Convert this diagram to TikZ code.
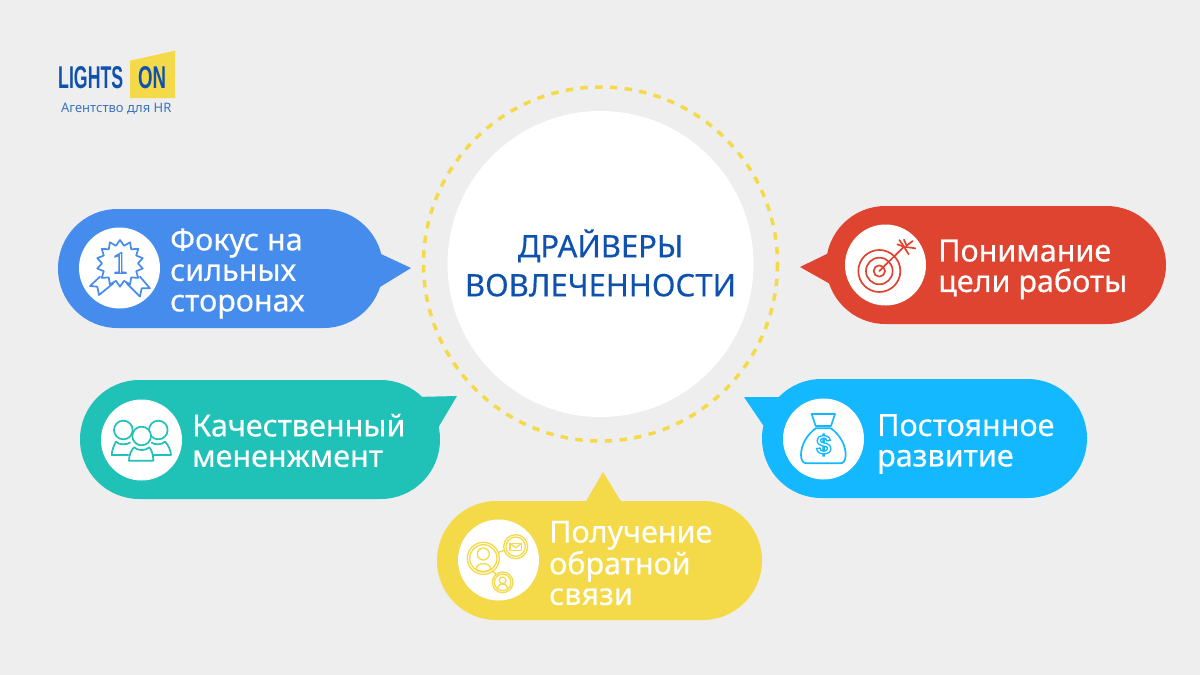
\documentclass[tikz,border=0pt]{standalone}
\usepackage{fontspec}
\usepackage{graphicx}
\setmainfont{Noto Sans}
\newfontfamily\medf[FakeBold=0.35]{Noto Sans}
\newfontfamily\serifnum{Liberation Serif}
\newfontfamily\logof{Liberation Sans}
\definecolor{bgc}{HTML}{EEEEEE}
\definecolor{cblue}{HTML}{468CEC}
\definecolor{cteal}{HTML}{20C1B7}
\definecolor{cyel}{HTML}{F4DA49}
\definecolor{ccyan}{HTML}{13B8FF}
\definecolor{cred}{HTML}{DF4430}
\definecolor{navy}{HTML}{0E51AE}
\definecolor{subblue}{HTML}{3A74BC}
\newcommand{\outl}[1]{\special{pdf:code q 1 Tr 1.3 w}#1\special{pdf:code Q}}
\tikzset{
  bubble/.style={rectangle,rounded corners=59.4pt,inner sep=0pt,minimum height=119pt},
  disc/.style={circle,fill=white,inner sep=0pt,minimum size=81pt},
  lbl/.style={anchor=west,align=left,text=white,inner sep=0pt,font=\fontsize{30.5}{30.5}\medf},
  ico/.style={line width=1.7pt,line join=round,line cap=round},
}
\begin{document}
\begin{tikzpicture}[x=1pt,y=-1pt]
\useasboundingbox (0,0) rectangle (1200,675);
\fill[bgc] (0,0) rectangle (1200,675);
% centre
\draw[cyel,line width=3.5pt,dash pattern=on 7.4pt off 7.4pt] (600.5,264) circle (177);
\node[circle,fill=white,inner sep=0pt,minimum size=306pt] (centre) at (600.5,264) {};
\node[align=center,inner sep=0pt,text=navy,font=\fontsize{31}{39}\medf] (title) at (600.5,263) {ДРАЙВЕРЫ\\ВОВЛЕЧЕННОСТИ};
% bubbles
\node[bubble,fill=cblue,minimum width=325pt] (b1) at (220.5,268.5) {};
\fill[cblue] (381,254) -- (411,268) -- (380,287) -- cycle;
\node[bubble,fill=cteal,minimum width=360pt] (b2) at (260,439.5) {};
\fill[cteal] (415,397) -- (457,396) -- (438,428) -- (425,430) -- cycle;
\node[bubble,fill=cyel,minimum width=325pt] (b3) at (599.5,560.5) {};
\fill[cyel] (585,503) -- (603,472) -- (622,503) -- cycle;
\node[bubble,fill=ccyan,minimum width=325pt] (b4) at (924.5,438.5) {};
\fill[ccyan] (790,397) -- (744,397) -- (763,425) -- (775,430) -- cycle;
\node[bubble,fill=cred,minimum width=340pt,minimum height=118pt] (b5) at (996,265) {};
\fill[cred] (835,250) -- (800,267) -- (832,285) -- cycle;
% discs
\node[disc] (d1) at (119.5,268) {};
\node[disc] (d2) at (141.5,440) {};
\node[disc] (d3) at (498.5,560) {};
\node[disc] (d4) at (823.5,439) {};
\node[disc] (d5) at (885.5,265) {};
% labels
\node[lbl] (t1) at (170,273.5) {Фокус на\\сильных\\сторонах};
\node[lbl] (t2) at (192,440.5) {Качественный\\мененжмент};
\node[lbl] (t3) at (549,563) {Получение\\обратной\\связи};
\node[lbl] (t4) at (877,444) {Постоянное\\развитие};
\node[lbl] (t5) at (938,269.5) {Понимание\\цели работы};
% badge icon
\begin{scope}[ico,draw=cblue,xshift=70pt,yshift=-220pt,x=0.3333pt,y=-0.3333pt]
 \draw (90,170) -- (60,198) -- (82,200) -- (87,225) -- (130,190);
 \draw (210,170) -- (240,205) -- (215,205) -- (210,230) -- (170,190);
 \draw[fill=white] (150,60)
  \foreach \i in {1,...,27}{ -- ({150+(mod(\i,2)==0 ? 70 : 54)*sin(\i*360/28)},{130-(mod(\i,2)==0 ? 70 : 54)*cos(\i*360/28)}) } -- cycle;
\end{scope}
\node[inner sep=0pt,text=cblue,font=\fontsize{31}{31}\serifnum] (one) at (120,263) {\outl{1}};
% people icon
\begin{scope}[ico,draw=cteal,xshift=90pt,yshift=-390pt,x=0.3333pt,y=-0.3333pt]
 \draw (100,120) circle (28*1);
 \draw (205,120) circle (28*1);
 \draw (78,155) .. controls (85,165) and (110,165) .. (120,158);
 \draw (78,155) .. controls (72,165) and (66,180) .. (65,195) -- (115,195);
 \draw (225,155) .. controls (215,165) and (195,165) .. (185,158);
 \draw (225,155) .. controls (235,165) and (242,180) .. (243,195) -- (190,195);
 \draw[fill=white] (155,138) circle (28*1);
 \draw[fill=white] (132,172) .. controls (145,183) and (165,183) .. (178,172) .. controls (185,180) and (190,195) .. (190,212) -- (117,212) .. controls (117,195) and (124,180) .. (132,172) -- cycle;
\end{scope}
% feedback icon
\begin{scope}[ico,draw=cyel,line width=1.3pt,xshift=450pt,yshift=-510pt,x=0.3333pt,y=-0.3333pt]
 \draw (100,145) circle (48*1);
 \draw (100,145) circle (41*1);
 \draw (100,132) circle (18*1);
 \draw (78,178) .. controls (78,155) and (122,155) .. (122,178) .. controls (110,186) and (90,186) .. (78,178) -- cycle;
 \draw (197,110) circle (36*1);
 \draw (197,110) circle (29*1);
 \draw (180,100) rectangle (215,122);
 \draw (180,100) -- (197,113) -- (215,100);
 \draw (158,217) circle (31*1);
 \draw (158,217) circle (25*1);
 \draw (158,211) circle (10*1);
 \draw (144,233) .. controls (144,218) and (172,218) .. (172,233);
 \draw (145,127) -- (163,121);
 \draw (128,183) -- (140,195);
\end{scope}
% money bag icon
\begin{scope}[ico,draw=ccyan,xshift=775pt,yshift=-400pt,x=0.3333pt,y=-0.3333pt]
 \draw (110,42) -- (180,42) -- (168,78) -- (122,78) -- cycle;
 \draw (122,85) -- (168,85) .. controls (195,105) and (212,135) .. (212,165) .. controls (212,182) and (205,190) .. (195,190) -- (95,190) .. controls (85,190) and (78,182) .. (78,165) .. controls (78,135) and (95,105) .. (122,85) -- cycle;
\end{scope}
\node[inner sep=0pt,text=ccyan,font=\fontsize{27}{27}\logof\bfseries] (dollar) at (823.7,445) {\outl{\$}};
% target icon
\begin{scope}[ico,draw=cred,xshift=840pt,yshift=-225pt,x=0.3333pt,y=-0.3333pt]
 \draw (118,138) circle (63*1);
 \draw (118,138) circle (40*1);
 \draw (118,138) circle (17*1);
 \draw (118,138) -- (192,65);
 \draw (178,45) -- (192,65) -- (226,70);
 \draw (192,44) -- (200,62) -- (218,48);
 \draw (172,58) -- (192,65) -- (206,88);
\end{scope}
% logo
\fill[cyel] (130,60.7) -- (175,50.7) -- (175,98) -- (130,98) -- cycle;
\node[anchor=west,inner sep=0pt,text=navy,font=\fontsize{30}{30}\logof\bfseries] (lg1) at (58,78) {\resizebox{65pt}{22pt}{LIGHTS}};
\node[anchor=west,inner sep=0pt,text=navy,font=\fontsize{30}{30}\logof\bfseries] (lg2) at (138,78) {\resizebox{28pt}{22pt}{ON}};
\node[anchor=west,inner sep=0pt,text=subblue,font=\fontsize{13}{15}\selectfont] (lg3) at (61,109) {Агентство для HR};
\end{tikzpicture}
\end{document}
